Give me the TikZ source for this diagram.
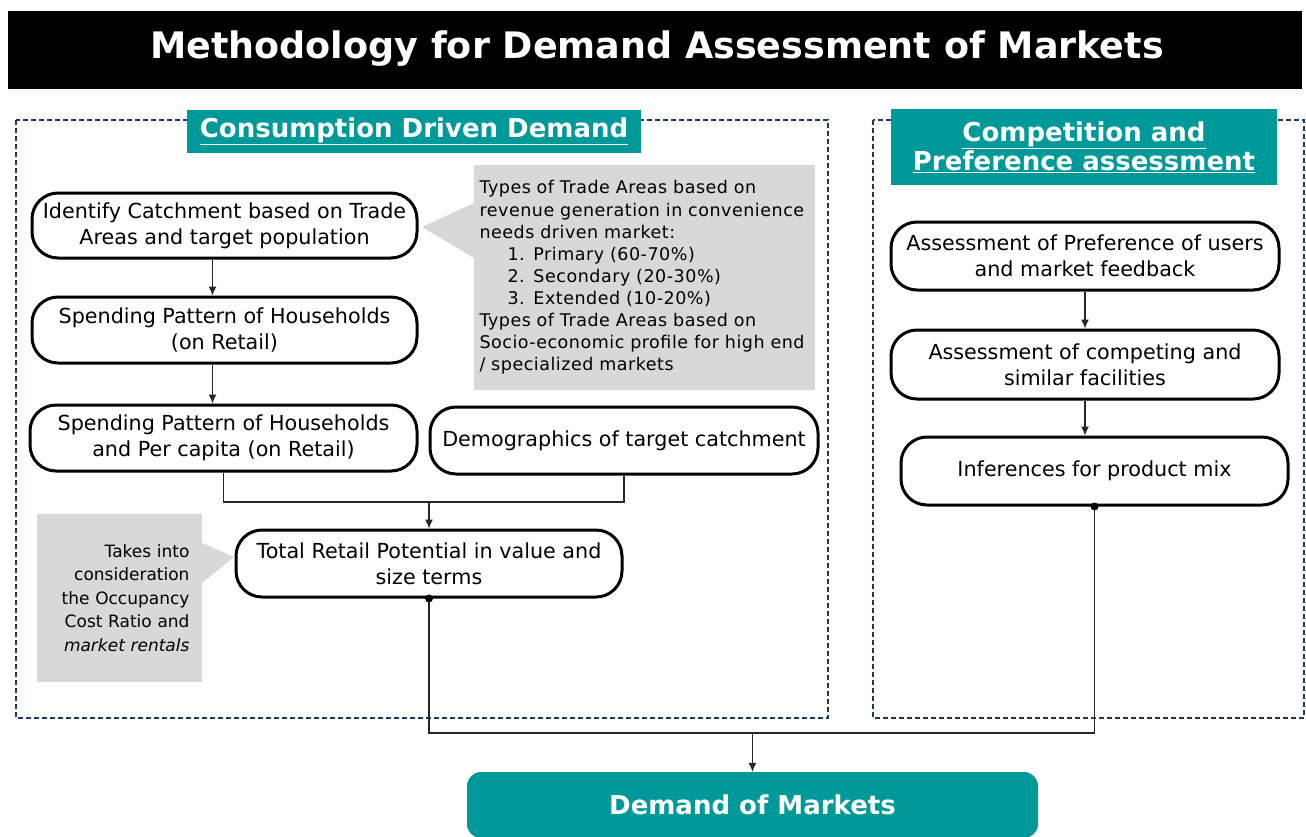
\documentclass[tikz,border=0pt]{standalone}
\usepackage{fontspec}
\setmainfont{DejaVu Sans}
\usetikzlibrary{arrows.meta}
\definecolor{tealhead}{RGB}{0,153,153}
\definecolor{navydash}{RGB}{31,56,100}
\definecolor{notegray}{RGB}{216,216,216}
\begin{document}
\begin{tikzpicture}[x=1pt,y=-1pt,line cap=butt,line join=miter,>={Latex[length=9pt,width=8pt]},
	proc/.style={draw,line width=3pt,rounded corners=26pt,fill=white,align=center,inner sep=2pt,font=\fontsize{20.7}{26}\selectfont},
	head/.style={fill=tealhead,text=white,align=center,inner sep=0pt,font=\bfseries\fontsize{26}{29}\selectfont},
	note/.style={fill=notegray,inner sep=5.5pt,font=\fontsize{17.5}{22.1}\selectfont\addfontfeature{LetterSpace=3.0}},
	frame/.style={draw=navydash,line width=1.2pt,dash pattern=on 5pt off 3pt},
	link/.style={draw=black!85,line width=1.2pt}]
		\clip (0,0) rectangle (1306,836);
		\fill[white] (0,0) rectangle (1306,836);
		\fill (8,11) rectangle (1302,89);
		\node[text=white,font=\bfseries\fontsize{36.5}{40}\selectfont] (title) at (657,49) {Methodology for Demand Assessment of Markets};
		
		\draw[frame] (16,120) rectangle (828,718);
		\draw[frame] (873,120) rectangle (1304,718);
		\node[head,minimum width=454pt,minimum height=43pt] (cdd) at (414,131.5) {\underline{Consumption Driven Demand}};
		\node[head,minimum width=386pt,minimum height=76pt] (cpa) at (1084,147) {\underline{Competition and}\\\underline{Preference assessment}};
		
		\fill[notegray] (474,203) -- (422,227) -- (474,258) -- cycle;
		\fill[notegray] (202,543) -- (234,557) -- (202,583) -- cycle;
		\node[note,minimum width=341pt,minimum height=225pt,text width=330pt,align=left] (types) at (644.5,277.5) {Types of Trade Areas based on\\revenue generation in convenience\\needs driven market:\\\hspace*{28pt}1. Primary (60-70\%)\\\hspace*{28pt}2. Secondary (20-30\%)\\\hspace*{28pt}3. Extended (10-20\%)\\Types of Trade Areas based on\\Socio-economic profile for high end\\/ specialized markets};
		\node[note,minimum width=165pt,minimum height=168pt,text width=140pt,align=right,font=\fontsize{17}{23.5}\selectfont] (occ) at (119.5,598) {Takes into\\consideration\\the Occupancy\\Cost Ratio and\\\textit{market rentals}};
		
		\node[proc,minimum width=385pt,minimum height=65pt] (catch) at (224.5,225.5) {Identify Catchment based on Trade\\Areas and target population};
		\node[proc,minimum width=385pt,minimum height=66pt] (spend) at (224.5,330) {Spending Pattern of Households\\(on Retail)};
		\node[proc,minimum width=387pt,minimum height=66pt] (spendpc) at (223.5,438) {Spending Pattern of Households\\and Per capita (on Retail)};
		\node[proc,minimum width=388pt,minimum height=67pt] (demo) at (624,440.5) {Demographics of target catchment};
		\node[proc,minimum width=386pt,minimum height=67pt] (total) at (429,563.5) {Total Retail Potential in value and\\size terms};
		
		\node[proc,minimum width=388pt,minimum height=68pt] (pref) at (1085,256) {Assessment of Preference of users\\and market feedback};
		\node[proc,minimum width=388pt,minimum height=69pt] (compet) at (1085,364.5) {Assessment of competing and\\similar facilities};
		\node[proc,minimum width=387pt,minimum height=68pt] (infer) at (1094.5,471) {Inferences for product mix};
		
		\node[head,rounded corners=14pt,minimum width=571pt,minimum height=66pt] (demand) at (752.5,805) {Demand of Markets};
		
		\draw[link,->] ([xshift=-12pt]catch.south) -- ([xshift=-12pt]spend.north);
		\draw[link,->] ([xshift=-12pt]spend.south) -- ([xshift=-11pt]spendpc.north);
		\coordinate (merge) at (429,502);
		\draw[link] (spendpc.south) |- (merge) -| (demo.south);
		\draw[link,->] (merge) -- (total.north);
		
		\draw[link,->] (pref.south) -- (compet.north);
		\draw[link,->] (compet.south) -- (compet.south |- infer.north);
		
		\coordinate (mid) at (752.5,733);
		\draw[link] (total.south) |- (mid) -| (infer.south);
		\draw[link,->] (mid) -- (demand.north);
		\fill (total.south) circle(4pt);
		\fill (infer.south) circle(4pt);
	\end{tikzpicture}
\end{document}
